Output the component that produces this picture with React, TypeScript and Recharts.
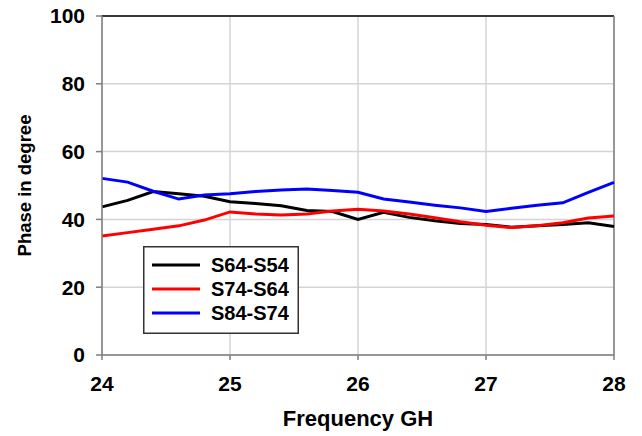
import React from "react";
import {
  LineChart,
  Line,
  XAxis,
  YAxis,
  CartesianGrid,
  ReferenceLine,
} from "recharts";

// Frequency sweep in GHz
const frequency = [
  24.0, 24.2, 24.4, 24.6, 24.8, 25.0, 25.2, 25.4, 25.6, 25.8, 26.0,
  26.2, 26.4, 26.6, 26.8, 27.0, 27.2, 27.4, 27.6, 27.8, 28.0,
];

// Phase differences between adjacent ports, in degrees
const s64s54 = [
  43.7, 45.6, 48.2, 47.6, 46.8, 45.2, 44.7, 44.0, 42.6, 42.3, 40.0,
  42.1, 40.6, 39.6, 38.8, 38.5, 37.7, 38.1, 38.5, 39.0, 37.9,
];
const s74s64 = [
  35.1, 36.1, 37.1, 38.1, 39.8, 42.2, 41.6, 41.3, 41.6, 42.5, 43.0,
  42.5, 41.6, 40.5, 39.3, 38.3, 37.6, 38.1, 39.0, 40.4, 41.0,
];
const s84s74 = [
  52.1, 51.0, 48.3, 46.0, 47.2, 47.6, 48.2, 48.7, 49.0, 48.5, 48.0,
  46.0, 45.1, 44.2, 43.4, 42.3, 43.3, 44.2, 44.9, 48.0, 50.9,
];

const xTicks = [24, 25, 26, 27, 28];
const yTicks = [0, 20, 40, 60, 80, 100];

const series = [
  { key: "a", name: "S64-S54", color: "#000000", values: s64s54 },
  { key: "b", name: "S74-S64", color: "#ff0000", values: s74s64 },
  { key: "c", name: "S84-S74", color: "#0000ff", values: s84s74 },
];

const rows = frequency.map((f, i) => {
  const row: Record<string, number> = { f };
  series.forEach((s) => {
    row[s.key] = s.values[i];
  });
  return row;
});

const FONT = "'Liberation Sans', Arial, sans-serif";
const AXIS_GRAY = "#7f7f7f";
const GRID_GRAY = "#d4d4d4";

const tickStyle = {
  fontFamily: FONT,
  fontWeight: 700,
  fontSize: 21,
  fill: "#000",
};

function YTitle(props: any) {
  const vb = props.viewBox || {};
  const cx = vb.x + 24;
  const cy = vb.y + vb.height / 2;
  return (
    <text
      x={cx}
      y={cy}
      transform={`rotate(-90 ${cx} ${cy})`}
      textAnchor="middle"
      dominantBaseline="central"
      style={{ fontFamily: FONT, fontWeight: 700, fontSize: 18.5, fill: "#000" }}
    >
      Phase in degree
    </text>
  );
}

function XTitle(props: any) {
  const vb = props.viewBox || {};
  return (
    <text
      x={vb.x + vb.width / 2}
      y={vb.y + 71}
      textAnchor="middle"
      style={{ fontFamily: FONT, fontWeight: 700, fontSize: 22, fill: "#000" }}
    >
      Frequency GH
    </text>
  );
}

function LegendBox() {
  return (
    <svg width={156} height={88} style={{ display: "block" }}>
      <rect
        x={0.75}
        y={0.75}
        width={154.5}
        height={86.5}
        fill="#fff"
        stroke="#333"
        strokeWidth={1.5}
      />
      {series.map((s, i) => (
        <g key={s.key}>
          <line
            x1={9}
            x2={57}
            y1={19 + i * 24}
            y2={19 + i * 24}
            stroke={s.color}
            strokeWidth={3}
          />
          <text
            x={68}
            y={19 + i * 24}
            dominantBaseline="central"
            style={{ fontFamily: FONT, fontWeight: 700, fontSize: 20, fill: "#000" }}
          >
            {s.name}
          </text>
        </g>
      ))}
    </svg>
  );
}

export default function App() {
  return (
    <div
      style={{
        position: "absolute",
        left: 0,
        top: 0,
        width: 642,
        height: 436,
        background: "#fff",
      }}
    >
      <LineChart
        width={642}
        height={436}
        data={rows}
        margin={{ top: 16, right: 28, bottom: 0, left: 0 }}
      >
        <CartesianGrid stroke={GRID_GRAY} strokeWidth={1.5} />
        <XAxis
          dataKey="f"
          type="number"
          domain={[24, 28]}
          ticks={xTicks}
          interval={0}
          height={81}
          tick={tickStyle}
          tickSize={5}
          tickMargin={16}
          stroke={AXIS_GRAY}
          strokeWidth={1.5}
          tickLine={{ stroke: AXIS_GRAY, strokeWidth: 1.5 }}
          label={<XTitle />}
        />
        <YAxis
          type="number"
          domain={[0, 100]}
          ticks={yTicks}
          interval={0}
          width={102}
          tick={tickStyle}
          tickSize={6}
          tickMargin={11}
          stroke={AXIS_GRAY}
          strokeWidth={1.5}
          tickLine={{ stroke: AXIS_GRAY, strokeWidth: 1.5 }}
          label={<YTitle />}
        />
        <ReferenceLine y={100} stroke="#000" strokeWidth={1.5} />
        <ReferenceLine x={28} stroke={AXIS_GRAY} strokeWidth={1.5} />
        {series.map((s) => (
          <Line
            key={s.key}
            dataKey={s.key}
            name={s.name}
            stroke={s.color}
            strokeWidth={3}
            dot={false}
            activeDot={false}
            type="linear"
            isAnimationActive={false}
          />
        ))}
      </LineChart>
      <div style={{ position: "absolute", left: 143, top: 246 }}>
        <LegendBox />
      </div>
    </div>
  );
}
